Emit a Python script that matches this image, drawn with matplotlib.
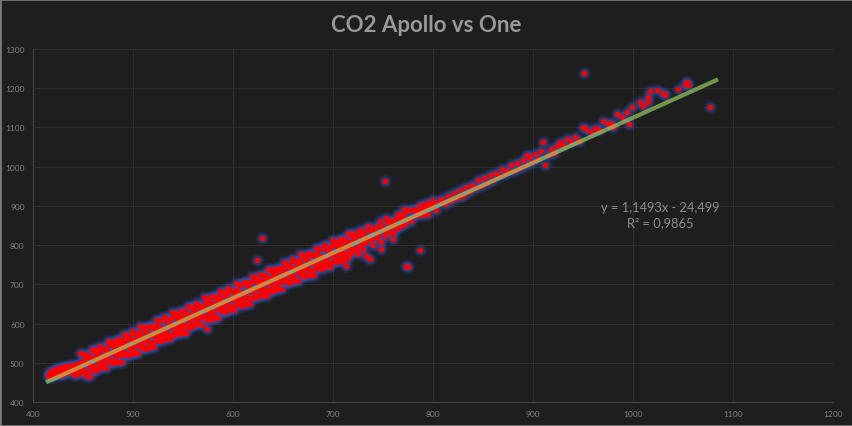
import matplotlib
matplotlib.use("Agg")
import matplotlib.pyplot as plt
from matplotlib.patches import Rectangle

plt.rcParams['font.family'] = ['Lato', 'DejaVu Sans']

title = "CO2 Apollo vs One"
x_ticks = [400, 500, 600, 700, 800, 900, 1000, 1100, 1200]
y_ticks = [400, 500, 600, 700, 800, 900, 1000, 1100, 1200, 1300]

slope = 1.1493
intercept = -24.499
r_squared = 0.9865
trend_x_range = [413, 1085]

# low end cluster
x_low = [415, 416, 417, 418, 419, 420, 421, 422, 423, 424, 425, 426, 427, 428, 429,
         430, 431, 432, 433, 434, 435, 436, 437, 438, 439, 440, 441, 442, 443, 444,
         445, 446, 447, 448, 449, 447]
y_low = [466, 474, 470, 478, 463, 472, 481, 468, 476, 486, 471, 480, 475, 489, 470,
         483, 477, 491, 484, 474, 488, 481, 494, 478, 486, 492, 470, 483, 496, 476,
         489, 471, 500, 485, 478, 526]

# dense band (even x)
x_dense = [450, 450, 452, 452, 454, 454, 456, 456, 458, 458, 460, 460, 462, 462, 464, 464,
           466, 466, 468, 468, 470, 470, 472, 472, 474, 474, 476, 476, 478, 478, 480, 480,
           482, 482, 484, 484, 486, 486, 488, 488, 490, 490, 492, 492, 494, 494, 496, 496,
           498, 498, 500, 500, 502, 502, 504, 504, 506, 506, 508, 508, 510, 510, 512, 512,
           514, 514, 516, 516, 518, 518, 520, 520, 522, 522, 524, 524, 526, 526, 528, 528,
           530, 530, 532, 532, 534, 534, 536, 536, 538, 538, 540, 540, 542, 542, 544, 544,
           546, 546, 548, 548, 550, 550, 552, 552, 554, 554, 556, 556, 558, 558, 560, 560,
           562, 562, 564, 564, 566, 566, 568, 568, 570, 570, 572, 572, 574, 574, 576, 576,
           578, 578, 580, 580, 582, 582, 584, 584, 586, 586, 588, 588, 590, 590, 592, 592,
           594, 594, 596, 596, 598, 598, 600, 600, 602, 602, 604, 604, 606, 606, 608, 608,
           610, 610, 612, 612, 614, 614, 616, 616, 618, 618, 620, 620, 622, 622, 624, 624,
           626, 626, 628, 628, 630, 630, 632, 632, 634, 634, 636, 636, 638, 638, 640, 640,
           642, 642, 644, 644, 646, 646, 648, 648, 650, 650, 652, 652, 654, 654, 656, 656,
           658, 658, 660, 660, 662, 662, 664, 664, 666, 666, 668, 668, 670, 670, 672, 672,
           674, 674, 676, 676, 678, 678, 680, 680, 682, 682, 684, 684, 686, 686, 688, 688,
           690, 690, 692, 692, 694, 694, 696, 696, 698, 698, 700, 700, 702, 702, 704, 704,
           706, 706, 708, 708, 710, 710, 712, 712, 714, 714, 716, 716, 718, 718, 720, 720]
y_dense = [505, 485, 515, 480, 500, 475, 516, 495, 511, 484, 529, 493, 512, 480, 523, 508,
           532, 498, 521, 494, 518, 506, 534, 495, 531, 514, 545, 506, 525, 501, 546, 524,
           536, 509, 547, 520, 561, 527, 540, 519, 551, 531, 561, 526, 546, 521, 562, 541,
           557, 530, 575, 539, 558, 526, 569, 554, 578, 544, 567, 540, 564, 552, 580, 541,
           577, 560, 591, 552, 571, 547, 592, 570, 582, 555, 593, 566, 607, 573, 586, 565,
           589, 568, 614, 580, 604, 577, 598, 571, 613, 591, 596, 572, 621, 582, 612, 595,
           619, 580, 607, 595, 616, 589, 631, 597, 626, 611, 620, 588, 642, 606, 628, 601,
           638, 617, 627, 602, 646, 611, 640, 620, 643, 623, 653, 618, 638, 613, 654, 633,
           649, 622, 667, 631, 650, 618, 661, 646, 670, 636, 659, 632, 656, 644, 672, 633,
           669, 652, 683, 644, 663, 639, 684, 662, 674, 647, 685, 658, 699, 665, 678, 657,
           681, 660, 706, 672, 696, 669, 690, 663, 705, 683, 688, 664, 713, 674, 704, 687,
           711, 672, 699, 687, 708, 681, 723, 689, 718, 703, 712, 680, 734, 698, 720, 693,
           730, 709, 719, 694, 738, 703, 732, 712, 735, 715, 745, 710, 730, 705, 746, 725,
           741, 714, 759, 723, 742, 710, 753, 738, 762, 728, 751, 724, 748, 736, 764, 725,
           761, 744, 775, 736, 755, 731, 776, 754, 766, 739, 777, 750, 791, 757, 770, 749,
           773, 752, 798, 764, 788, 761, 782, 755, 797, 775, 780, 756, 805, 766, 796, 779,
           803, 764, 791, 779, 800, 773, 815, 781, 810, 795, 804, 772, 826, 790, 812, 785]

# dense band edges (odd x)
x_edge = [451, 453, 455, 457, 459, 461, 463, 465, 467, 469, 471, 473, 475, 477, 479, 481,
          483, 485, 487, 489, 491, 493, 495, 497, 499, 501, 503, 505, 507, 509, 511, 513,
          515, 517, 519, 521, 523, 525, 527, 529, 531, 533, 535, 537, 539, 541, 543, 545,
          547, 549, 551, 553, 555, 557, 559, 561, 563, 565, 567, 569, 571, 573, 575, 577,
          579, 581, 583, 585, 587, 589, 591, 593, 595, 597, 599, 601, 603, 605, 607, 609,
          611, 613, 615, 617, 619, 621, 623, 625, 627, 629, 631, 633, 635, 637, 639, 641,
          643, 645, 647, 649, 651, 653, 655, 657, 659, 661, 663, 665, 667, 669, 671, 673,
          675, 677, 679, 681, 683, 685, 687, 689, 691, 693, 695, 697, 699, 701, 703, 705,
          707, 709, 711, 713, 715, 717, 719]
y_edge = [522, 466, 520, 467, 536, 485, 532, 483, 543, 490, 536, 487, 556, 502, 552, 499,
          558, 503, 557, 503, 573, 522, 569, 520, 580, 527, 572, 524, 593, 538, 589, 536,
          595, 540, 594, 540, 609, 559, 606, 556, 617, 564, 609, 561, 630, 575, 625, 573,
          632, 576, 631, 577, 646, 596, 643, 593, 653, 601, 646, 597, 667, 612, 662, 610,
          669, 613, 667, 614, 683, 632, 680, 630, 690, 638, 683, 634, 703, 649, 699, 646,
          706, 650, 704, 651, 720, 669, 716, 667, 727, 674, 720, 671, 740, 686, 736, 683,
          742, 687, 741, 687, 757, 706, 753, 704, 764, 711, 756, 708, 777, 722, 773, 720,
          779, 724, 778, 724, 793, 743, 790, 740, 801, 748, 793, 745, 814, 759, 809, 757,
          816, 760, 815, 761, 830, 780, 827]

# middle section
x_mid = [722, 724, 726, 728, 730, 732, 734, 736, 738, 740, 742, 744, 746, 748, 750,
         752, 754, 756, 758, 760, 762, 764, 766, 768, 770, 772, 775, 778, 781, 784,
         787, 790, 793, 796, 799, 713, 730, 737, 725, 748, 733, 760,
         721, 723, 727, 729, 733, 735, 739, 741, 745, 747, 751, 753, 757, 759, 763,
         765, 769, 771, 776, 779, 783, 786, 789, 792, 795, 798]
y_mid = [818, 795, 826, 800, 831, 806, 840, 812, 835, 801, 846, 818, 850, 808, 846,
         822, 858, 834, 862, 830, 866, 845, 872, 850, 879, 855, 887, 862, 890, 883,
         902, 876, 908, 899, 915, 748, 788, 765, 778, 790, 772, 815,
         830, 790, 838, 812, 820, 850, 815, 838, 826, 862, 836, 870, 845, 856, 842,
         880, 866, 892, 870, 893, 874, 895, 890, 900, 880, 906]

# sparse upper section
x_high = [800, 803, 806, 809, 812, 815, 818, 821, 824, 827, 830, 833, 836, 839, 842,
          845, 848, 851, 854, 857, 860, 863, 866, 869, 872, 875, 878, 881, 884, 887,
          890, 893, 896, 899, 902, 905, 908, 910, 912, 915, 918, 921, 924, 927, 930,
          934, 938, 942, 946, 950, 953, 958, 962, 966, 970, 975, 978, 980, 984, 989,
          994, 996, 999, 1007, 1010, 1015, 1015, 1017, 1024, 1030, 1032, 1045, 1052,
          1054, 1055, 894]
y_high = [905, 890, 912, 918, 905, 925, 912, 932, 920, 940, 925, 948, 936, 954, 945,
          966, 950, 972, 958, 978, 965, 985, 975, 994, 982, 990, 1003, 988, 1010, 997,
          1018, 1003, 1025, 1012, 1033, 1020, 1040, 1062, 1003, 1030, 1045, 1034, 1052,
          1062, 1055, 1071, 1063, 1075, 1066, 1101, 1097, 1088, 1099, 1094, 1117, 1108,
          1112, 1100, 1134, 1126, 1139, 1109, 1152, 1165, 1155, 1177, 1165, 1193, 1195,
          1187, 1183, 1198, 1211, 1215, 1209, 1030]

# outliers
x_out = [951, 1077, 752, 629, 624, 787, 773, 775, 574]
y_out = [1239, 1151, 964, 818, 763, 788, 747, 743, 586]

xs = x_low + x_dense + x_edge + x_mid + x_high + x_out
ys = y_low + y_dense + y_edge + y_mid + y_high + y_out

BG = '#1e1e1e'
fig = plt.figure(figsize=(8.53, 4.27), dpi=100, facecolor=BG)
ax = fig.add_axes([33/853, 1-403/427, 800/853, 353/427])
ax.set_facecolor(BG)

# glow
ax.scatter(xs, ys, s=100, color='#2c4ea8', alpha=0.18, linewidths=0, zorder=2)
ax.scatter(xs, ys, s=52, color='#3558c0', alpha=0.35, linewidths=0, zorder=2)
# points
ax.scatter(xs, ys, s=16, color='#ff0000', linewidths=0, zorder=3)

# trendline
tx = trend_x_range
ty = [slope * v + intercept for v in tx]
ax.plot(tx, ty, color='#ace669', alpha=0.6, lw=3.0, solid_capstyle='butt', zorder=4)

ax.set_xlim(400, 1200)
ax.set_ylim(400, 1300)
ax.set_xticks(x_ticks)
ax.set_yticks(y_ticks)
ax.grid(True, color='#2f2f2f', lw=0.8)
ax.set_axisbelow(True)
for s in ['top', 'right']:
    ax.spines[s].set_visible(False)
for s in ['left', 'bottom']:
    ax.spines[s].set_color('#444444')
    ax.spines[s].set_linewidth(0.8)
ax.tick_params(length=0, colors='#808080', labelsize=6, pad=6)

fig.text(0.5, 1-26/427, title, ha='center', va='center', fontsize=16,
         fontweight='bold', color='#999999')

eq = "y = 1,1493x - 24,499\nR² = 0,9865"
ax.text(1027, 400 + (403-216)/0.3922, eq, ha='center', va='center', fontsize=9.3,
        color='#8c8c8c', linespacing=1.3)

fig.add_artist(Rectangle((0, 0), 1, 1, transform=fig.transFigure, fill=False,
                         edgecolor='#7a7a7a', lw=2))

fig.savefig('out.png', dpi=100, facecolor=BG)
